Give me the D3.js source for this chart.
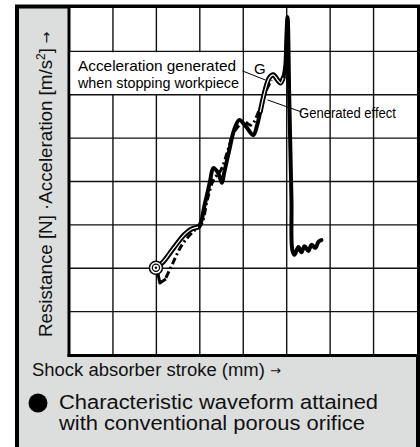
<!DOCTYPE html>
<html><head><meta charset="utf-8">
<script src="https://cdn.jsdelivr.net/npm/d3@7"></script>
<style>html,body{margin:0;padding:0;background:#fff}svg{display:block;font-family:"Liberation Sans",Arial,sans-serif}</style>
</head><body><svg id="c" width="420" height="447"></svg>
<script>
// ---- data (grid units: 8 x 8 cells) ----
const gridX = [0,1,2,3,4,5,6,7,8];
const gridY = [0,1,2,3,4,5,6,7,8];
const resistance = [
 [1.99,2.01],[2.15,2.14],[2.40,2.47],[2.64,2.77],[2.80,2.90],[2.96,2.95],[3.03,3.07],
 [3.10,3.41],[3.19,3.80],[3.24,4.03],[3.31,4.31],[3.42,4.20],[3.51,3.97],[3.56,4.20],
 [3.68,4.73],[3.79,5.19],[3.91,5.42],[4.07,5.26],[4.23,5.07],[4.32,5.30],[4.39,5.60],
 [4.46,5.93],[4.53,6.20],[4.60,6.39],[4.69,6.46],[4.79,6.34],[4.86,6.27],[4.92,6.39],
 [4.97,6.69],[4.99,7.26],[5.02,7.79],[5.06,5.88],[5.11,3.57],[5.13,2.42],[5.18,2.31],
 [5.27,2.49],[5.34,2.37],[5.41,2.51],[5.50,2.40],[5.57,2.54],[5.66,2.47],[5.73,2.61],[5.80,2.65]
];
const accelLow = [[1.99,2.01],[2.15,2.14],[2.40,2.47],[2.64,2.77],[2.80,2.90],[2.96,2.95]];
const accelHigh = [[4.39,5.60],[4.46,5.93],[4.53,6.20],[4.60,6.39],[4.69,6.46],[4.79,6.34],[4.86,6.27],[4.92,6.39]];
const effectHook = [[2.03,1.91],[2.08,1.66],[2.22,1.75]];
const effect = [
 [2.22,1.78],[2.38,2.12],[2.59,2.54],[2.84,2.84],[3.03,3.00],[3.17,3.57],[3.31,4.03],
 [3.49,4.27],[3.65,4.73],[3.79,5.14],[4.02,5.37],[4.18,5.30],[4.37,5.65],[4.51,6.06],[4.65,6.34]
];
const startPoint = [1.99,2.01];
const gLeader = [[3.98,6.55],[4.51,6.34]];
const effLeader = [[4.56,5.88],[5.35,5.60]];
const labels = {
  annot1:"Acceleration generated", annot2:"when stopping workpiece",
  g:"G", effect:"Generated effect",
  yMain:"Resistance [N] ·Acceleration [m/s", ySup:"2", yEnd:"] ",
  x:"Shock absorber stroke (mm) ", arrow:"→",
  leg1:"Characteristic waveform attained", leg2:"with conventional porous orifice"
};

const svg = d3.select("#c");
const x = d3.scaleLinear().domain([0,8]).range([69.5,417]);
const y = d3.scaleLinear().domain([0,8]).range([355,8]);

// outer panel
svg.append("rect").attr("x",0).attr("y",0).attr("width",420).attr("height",447).attr("fill","#fff");
svg.append("rect").attr("x",17).attr("y",6.5).attr("width",401).attr("height",445)
  .attr("fill","#dcdddd").attr("stroke","#000").attr("stroke-width",4);
// plot area
svg.append("rect").attr("x",x(0)).attr("y",y(8)).attr("width",x(8)-x(0)).attr("height",y(0)-y(8)).attr("fill","#fff");
const g = svg.append("g");
g.selectAll(".vx").data(gridX.slice(1,8)).join("line")
  .attr("x1",d=>x(d)).attr("x2",d=>x(d)).attr("y1",y(8)).attr("y2",y(0))
  .attr("stroke","#111").attr("stroke-width",1.4);
g.selectAll(".hy").data(gridY.slice(1,8)).join("line")
  .attr("y1",d=>y(d)).attr("y2",d=>y(d)).attr("x1",x(0)).attr("x2",x(8))
  .attr("stroke","#111").attr("stroke-width",1.4);
// thick left & bottom plot frame
g.append("line").attr("x1",x(0)-0.5).attr("x2",x(0)-0.5).attr("y1",y(8)).attr("y2",y(0)+1.5).attr("stroke","#000").attr("stroke-width",3);
g.append("line").attr("x1",x(0)-2).attr("x2",x(8)).attr("y1",y(0)+0.5).attr("y2",y(0)+0.5).attr("stroke","#000").attr("stroke-width",3);

// annotation white box
svg.append("rect").attr("x",x(0)+1).attr("y",y(7)+0.8).attr("width",x(4)-x(0)-1.8).attr("height",y(6)-y(7)-1.6).attr("fill","#fff");
svg.append("text").attr("x",78).attr("y",71).attr("font-size",15).attr("textLength",158).attr("lengthAdjust","spacingAndGlyphs").text(labels.annot1);
svg.append("text").attr("x",78).attr("y",88).attr("font-size",15).attr("textLength",161).attr("lengthAdjust","spacingAndGlyphs").text(labels.annot2);

const line = d3.line().x(d=>x(d[0])).y(d=>y(d[1]));
const smooth = d3.line().x(d=>x(d[0])).y(d=>y(d[1])).curve(d3.curveCatmullRom.alpha(0.5));

// leaders
[gLeader,effLeader].forEach(l=>svg.append("path").attr("d",line(l)).attr("fill","none").attr("stroke","#000").attr("stroke-width",1));

// generated effect (dash-dot)
svg.append("path").attr("d",smooth(effect)).attr("fill","none").attr("stroke","#000")
  .attr("stroke-width",3).attr("stroke-dasharray","7,3,2,3");
svg.append("path").attr("d",line(effectHook)).attr("fill","none").attr("stroke","#000")
  .attr("stroke-width",3).attr("stroke-linejoin","round");
// resistance curve
svg.append("path").attr("d",smooth(resistance)).attr("fill","none").attr("stroke","#000")
  .attr("stroke-width",4).attr("stroke-linejoin","round").attr("stroke-linecap","round");
// acceleration outline segments
[accelLow,accelHigh].forEach(s=>{
  svg.append("path").attr("d",smooth(s)).attr("fill","none").attr("stroke","#000").attr("stroke-width",5).attr("stroke-linecap","round");
  svg.append("path").attr("d",smooth(s)).attr("fill","none").attr("stroke","#fff").attr("stroke-width",1.2);
});
// start marker
const sp = svg.append("g").attr("transform",`translate(${x(startPoint[0])},${y(startPoint[1])})`);
sp.append("circle").attr("r",6.5).attr("fill","#fff").attr("stroke","#000").attr("stroke-width",1.5);
sp.append("circle").attr("r",3.6).attr("fill","none").attr("stroke","#000").attr("stroke-width",1.2);
sp.append("circle").attr("r",1.2).attr("fill","#000");

svg.append("text").attr("x",254).attr("y",74).attr("font-size",15).text(labels.g);
svg.append("text").attr("x",299).attr("y",118).attr("font-size",14).attr("textLength",97).attr("lengthAdjust","spacingAndGlyphs").text(labels.effect);

// y label
const yl = svg.append("text").attr("transform","translate(52,337) rotate(-90)").attr("font-size",18).attr("fill","#111");
yl.append("tspan").attr("textLength",277).attr("lengthAdjust","spacingAndGlyphs").text(labels.yMain);
yl.append("tspan").attr("font-size",12).attr("dy",-7).text(labels.ySup);
yl.append("tspan").attr("dy",7).text(labels.yEnd);
yl.append("tspan").attr("font-family","DejaVu Sans").attr("font-size",14).attr("dy",-1).text(labels.arrow);

// x label
const xl = svg.append("text").attr("x",32).attr("y",376).attr("font-size",18).attr("fill","#111");
xl.append("tspan").attr("textLength",238).attr("lengthAdjust","spacingAndGlyphs").text(labels.x);
xl.append("tspan").attr("font-family","DejaVu Sans").attr("font-size",13).attr("dy",-1).text(labels.arrow);

// legend
svg.append("circle").attr("cx",38).attr("cy",403).attr("r",9.5).attr("fill","#000");
svg.append("text").attr("x",59).attr("y",409).attr("font-size",20).attr("fill","#111").attr("textLength",319).attr("lengthAdjust","spacingAndGlyphs").text(labels.leg1);
svg.append("text").attr("x",59).attr("y",430).attr("font-size",20).attr("fill","#111").attr("textLength",306).attr("lengthAdjust","spacingAndGlyphs").text(labels.leg2);
</script></body></html>
